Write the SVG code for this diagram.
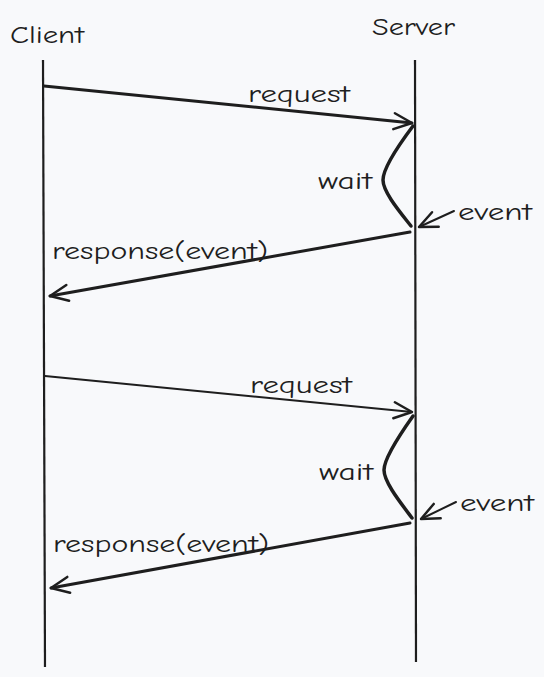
<svg xmlns="http://www.w3.org/2000/svg" width="544" height="677" viewBox="0 0 544 677">
<style>
.t{font-family:"Comic Neue","Liberation Sans","DejaVu Sans",sans-serif;font-size:24px;fill:#1e1e1e}
.life{stroke:#1e1e1e;stroke-width:2.2;fill:none}
.msg{stroke:#1e1e1e;stroke-width:3;fill:none;stroke-linecap:round}
.wait{stroke:#1e1e1e;stroke-width:3.5;fill:none;stroke-linecap:round}
.ev{stroke:#1e1e1e;stroke-width:2;fill:none;stroke-linecap:round}
</style>
<defs>
<marker id="ah" markerUnits="userSpaceOnUse" viewBox="-20 -12 24 24" markerWidth="24" markerHeight="24" refX="0" refY="0" orient="auto">
<path d="M-18,-8 L0,0 L-18,8" fill="none" stroke="#1e1e1e" stroke-width="2.5" stroke-linecap="round" stroke-linejoin="round"/>
</marker>
</defs>
<rect width="544" height="677" fill="#f8f9fb"/>
<g id="client">
<text class="t" x="10" y="43" textLength="74" lengthAdjust="spacingAndGlyphs">Client</text>
<line class="life" x1="43" y1="60" x2="45" y2="667"/>
</g>
<g id="server">
<text class="t" x="372" y="35" textLength="83" lengthAdjust="spacingAndGlyphs">Server</text>
<line class="life" x1="415" y1="60" x2="416" y2="662"/>
</g>
<g id="labels">
<text class="t" x="248" y="102" textLength="102" lengthAdjust="spacingAndGlyphs">request</text>
<text class="t" x="318" y="189" textLength="54" lengthAdjust="spacingAndGlyphs">wait</text>
<text class="t" x="458" y="220" textLength="74" lengthAdjust="spacingAndGlyphs">event</text>
<text class="t" x="52" y="259" textLength="216" lengthAdjust="spacingAndGlyphs">response(event)</text>
<text class="t" x="250" y="393" textLength="102" lengthAdjust="spacingAndGlyphs">request</text>
<text class="t" x="319" y="480" textLength="54" lengthAdjust="spacingAndGlyphs">wait</text>
<text class="t" x="460" y="511" textLength="74" lengthAdjust="spacingAndGlyphs">event</text>
<text class="t" x="53" y="552" textLength="216" lengthAdjust="spacingAndGlyphs">response(event)</text>
</g>
<g id="connectors">
<line class="msg" x1="44" y1="86" x2="412" y2="123" marker-end="url(#ah)"/>
<path class="wait" d="M413,126 C395,150 383,170 383,180 C383,192 400,212 411,226"/>
<line class="ev" x1="454" y1="211" x2="419" y2="227" marker-end="url(#ah)"/>
<line class="msg" x1="410" y1="232" x2="50" y2="296" marker-end="url(#ah)"/>
<line class="ev" x1="45" y1="376" x2="412" y2="412" marker-end="url(#ah)"/>
<path class="wait" d="M413,416 C396,440 384,460 384,470 C384,482 400,502 412,518"/>
<line class="ev" x1="456" y1="502" x2="421" y2="519" marker-end="url(#ah)"/>
<line class="msg" x1="410" y1="523" x2="51" y2="588" marker-end="url(#ah)"/>
</g>
</svg>
